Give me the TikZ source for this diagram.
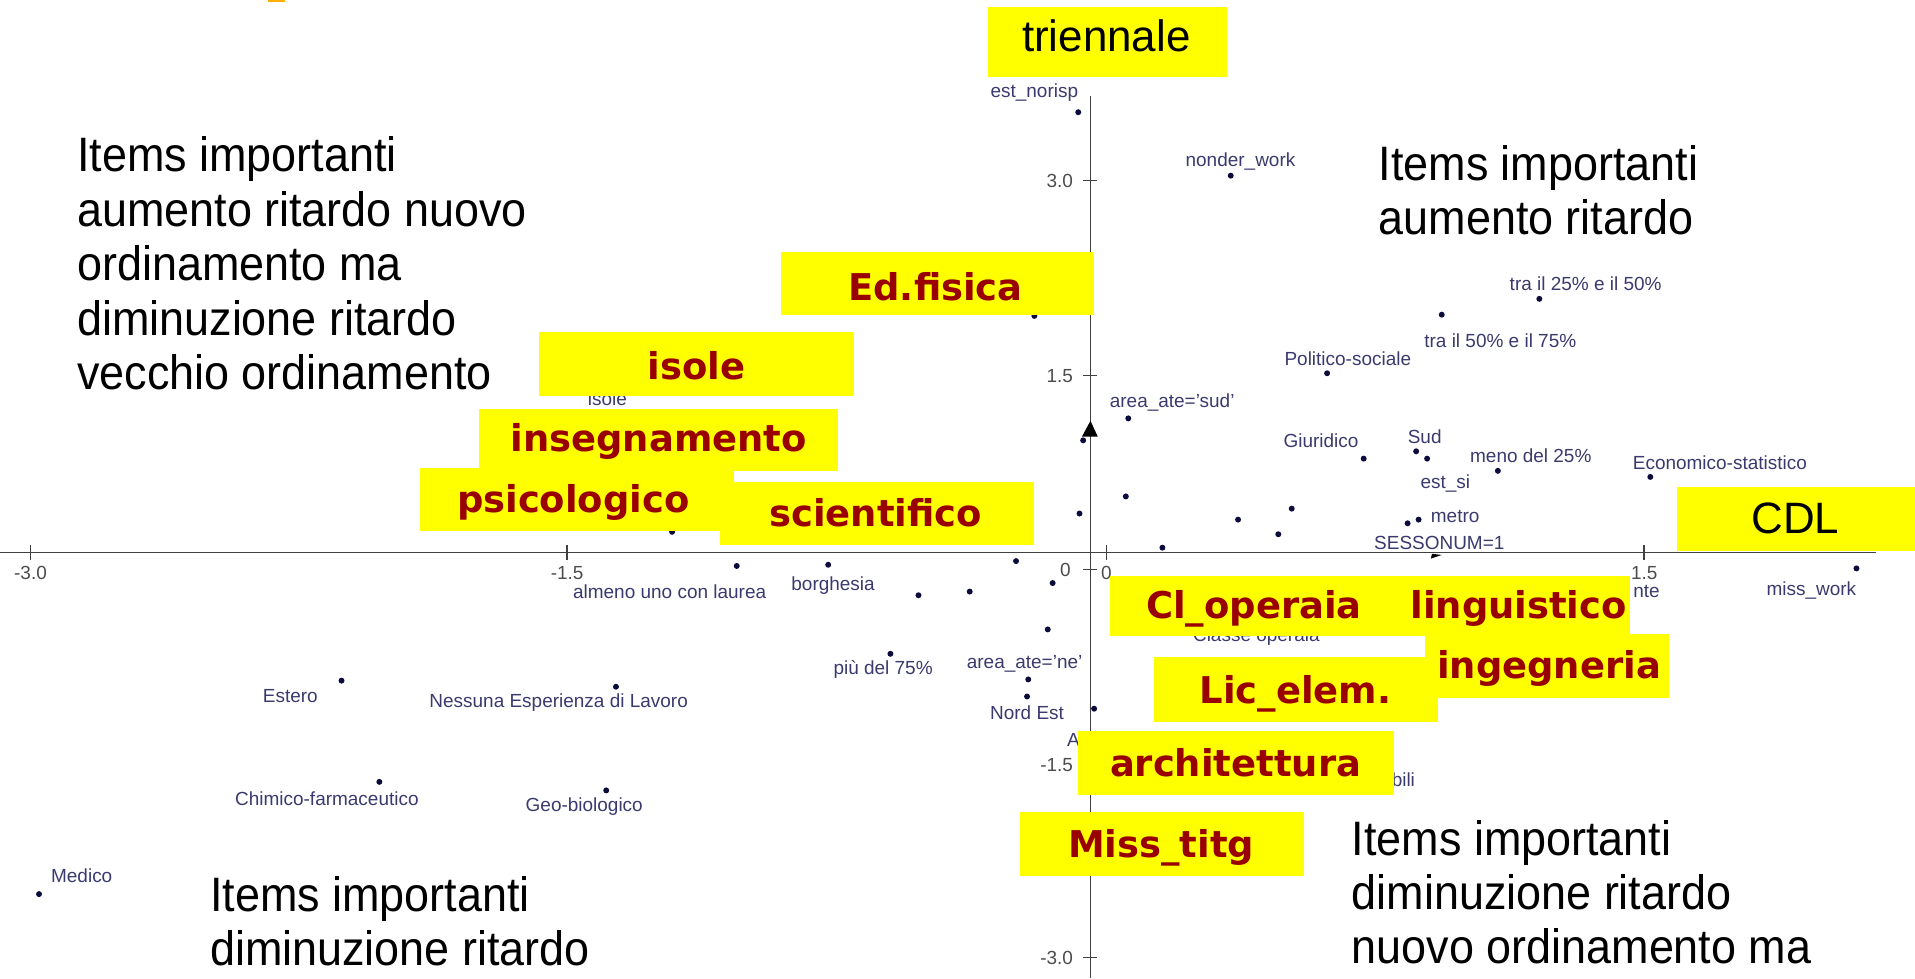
\documentclass[tikz,border=0pt]{standalone}
\usepackage{fontspec}
\setmainfont{Liberation Sans}
\newfontfamily\hlfont{DejaVu Sans}
\newfontfamily\quadfont[FakeStretch=0.93]{Liberation Sans}
\definecolor{hlyellow}{RGB}{255,255,0}
\definecolor{hlred}{RGB}{153,0,0}
\definecolor{labblue}{RGB}{58,58,110}
\definecolor{dotblue}{RGB}{12,12,60}
\definecolor{titorange}{RGB}{255,176,0}
\tikzset{
lab/.style={font=\fontsize{10.8}{12}\selectfont, text=labblue, inner sep=0.5pt},
ticklab/.style={font=\fontsize{10.8}{12}\selectfont, text=black!70, inner sep=0pt},
hl/.style={font=\hlfont\bfseries\fontsize{21}{24}\selectfont, text=hlred, inner sep=0pt, anchor=base},
axname/.style={font=\fontsize{25}{28}\selectfont, inner sep=0pt, anchor=base},
quad/.style={font=\quadfont\fontsize{27.5}{31}\selectfont, align=left, anchor=north west, inner sep=0pt},
datum/.style={fill=dotblue},
ax/.style={draw=black!75, line width=0.9pt}
}

\begin{document}
\begin{tikzpicture}[x=0.0244cm, y=-0.0244cm]
\useasboundingbox (0,0) rectangle (1570,802);
\fill[titorange] (220,0) rectangle (234,2);

% axes
\draw[ax] (0,453) -- (1538,453);
\draw[ax] (894,79) -- (894,802);
\draw[ax] (25,447) -- (25,459);
\draw[ax] (465,447) -- (465,459);
\draw[ax] (907,447) -- (907,459);
\draw[ax] (1348,447) -- (1348,459);
\draw[ax] (888,148) -- (899,148);
\draw[ax] (888,308) -- (899,308);
\draw[ax] (888,467) -- (899,467);
\draw[ax] (888,627) -- (899,627);
\draw[ax] (888,785) -- (899,785);
\node[ticklab] (xm3) at (25,470) {-3.0};
\node[ticklab] (xm15) at (465,470) {-1.5};
\node[ticklab] (x0) at (907,470) {0};
\node[ticklab] (x15) at (1348,470) {1.5};
\node[ticklab, anchor=east] (y3) at (880,148) {3.0};
\node[ticklab, anchor=east] (y15) at (880,308) {1.5};
\node[ticklab, anchor=east] (y0) at (878,467) {0};
\node[ticklab, anchor=east] (ym15) at (880,627) {-1.5};
\node[ticklab, anchor=east] (ym3) at (880,785) {-3.0};
\fill (887,358) -- (900,358) -- (894,345) -- cycle;

% categories
\node[lab] (estnorisp) at (848,76) {est\_norisp};
\fill[datum] (884,92) circle [radius=1.7pt];
\node[lab] (nonder) at (1017,132) {nonder\_work};
\fill[datum] (1009,144) circle [radius=1.7pt];
\node[lab] (tra25) at (1300,233) {tra il 25\% e il 50\%};
\fill[datum] (1262,245) circle [radius=1.7pt];
\node[lab] (tra50) at (1230,279) {tra il 50\% e il 75\%};
\fill[datum] (1182,258) circle [radius=1.7pt];
\node[lab] (polsoc) at (1105,294) {Politico-sociale};
\fill[datum] (1088,306) circle [radius=1.7pt];
\node[lab] (areasud) at (961,330) {area\_ate='sud'};
\fill[datum] (925,343) circle [radius=1.7pt];
\node[lab] (giur) at (1083,361) {Giuridico};
\fill[datum] (1118,376) circle [radius=1.7pt];
\node[lab] (sud) at (1168,358) {Sud};
\fill[datum] (1161,370) circle [radius=1.7pt];
\fill[datum] (1170,376) circle [radius=1.7pt];
\node[lab] (estsi) at (1185,396) {est\_si};
\node[lab] (meno25) at (1255,374) {meno del 25\%};
\fill[datum] (1228,386) circle [radius=1.7pt];
\node[lab] (ecostat) at (1410,379) {Economico-statistico};
\fill[datum] (1353,391) circle [radius=1.7pt];
\node[lab] (metro) at (1193,423) {metro};
\fill[datum] (1154,429) circle [radius=1.7pt];
\fill[datum] (1163,426) circle [radius=1.7pt];
\node[lab, fill=white] (sesso) at (1180,445) {SESSONUM=1};
\fill (1173,458) -- (1182,455) -- (1174,454) -- cycle;
\node[lab] (misswork) at (1485,484) {miss\_work};
\fill[datum] (1522,466) circle [radius=1.7pt];
\node[lab, anchor=west] (nte) at (1338,485) {nte};
\node[lab] (laurea) at (549,485) {almeno uno con laurea};
\fill[datum] (604,464) circle [radius=1.7pt];
\node[lab] (borgh) at (683,480) {borghesia};
\fill[datum] (679,463) circle [radius=1.7pt];
\node[lab] (piu75) at (724,549) {più del 75\%};
\fill[datum] (730,536) circle [radius=1.7pt];
\node[lab] (areane) at (840,544) {area\_ate='ne'};
\fill[datum] (843,557) circle [radius=1.7pt];
\fill[datum] (842,571) circle [radius=1.7pt];
\node[lab] (nordest) at (842,584) {Nord Est};
\node[lab] (estero) at (238,571) {Estero};
\fill[datum] (280,558) circle [radius=1.7pt];
\node[lab] (nessuna) at (458,576) {Nessuna Esperienza di Lavoro};
\fill[datum] (505,563) circle [radius=1.7pt];
\node[lab] (chimico) at (268,655) {Chimico-farmaceutico};
\fill[datum] (311,641) circle [radius=1.7pt];
\node[lab] (geobio) at (479,661) {Geo-biologico};
\fill[datum] (497,648) circle [radius=1.7pt];
\node[lab] (medico) at (67,718) {Medico};
\fill[datum] (32,733) circle [radius=1.7pt];
\node[lab] (isolelab) at (498,327) {isole};
\node[lab] (classe) at (1030,522) {Classe operaia};
\node[lab] (alab) at (880,607) {A};
\node[lab, anchor=west] (bili) at (1140,639) {bili};
\fill[datum] (848,259) circle [radius=1.7pt];
\fill[datum] (888,361) circle [radius=1.7pt];
\fill[datum] (923,407) circle [radius=1.7pt];
\fill[datum] (885,421) circle [radius=1.7pt];
\fill[datum] (953,449) circle [radius=1.7pt];
\fill[datum] (1015,426) circle [radius=1.7pt];
\fill[datum] (1048,438) circle [radius=1.7pt];
\fill[datum] (1059,417) circle [radius=1.7pt];
\fill[datum] (551,436) circle [radius=1.7pt];
\fill[datum] (753,488) circle [radius=1.7pt];
\fill[datum] (795,485) circle [radius=1.7pt];
\fill[datum] (833,460) circle [radius=1.7pt];
\fill[datum] (863,478) circle [radius=1.7pt];
\fill[datum] (859,516) circle [radius=1.7pt];
\fill[datum] (897,581) circle [radius=1.7pt];

% highlighted
\fill[hlyellow] (810,6) rectangle (1006,63);
\node[axname] (trienn) at (907,42) {triennale};
\fill[hlyellow] (1375,399) rectangle (1570,452);
\node[axname] (cdl) at (1472,437) {CDL};
\fill[hlyellow] (640,207) rectangle (897,258);
\node[hl] (edfis) at (767,246) {Ed.fisica};
\fill[hlyellow] (442,272) rectangle (700,325);
\node[hl] (isole) at (571,311) {isole};
\fill[hlyellow] (393,335) rectangle (687,386);
\node[hl] (insegn) at (540,370) {insegnamento};
\fill[hlyellow] (344,384) rectangle (602,435);
\node[hl] (psico) at (470,420) {psicologico};
\fill[hlyellow] (590,395) rectangle (848,447);
\node[hl] (scient) at (718,432) {scientifico};
\fill[hlyellow] (910,472) rectangle (1145,521);
\node[hl] (clop) at (1028,507) {Cl\_operaia};
\fill[hlyellow] (1145,472) rectangle (1336,521);
\node[hl] (lingu) at (1245,507) {linguistico};
\fill[hlyellow] (1168,520) rectangle (1368,572);
\node[hl] (ingegn) at (1270,556) {ingegneria};
\fill[hlyellow] (946,539) rectangle (1179,592);
\node[hl] (licel) at (1062,577) {Lic\_elem.};
\fill[hlyellow] (884,599) rectangle (1143,652);
\node[hl] (archit) at (1013,637) {architettura};
\fill[hlyellow] (836,666) rectangle (1069,718);
\node[hl] (misstitg) at (952,703) {Miss\_titg};

% quadrants
\node[quad] (tlnote) at (63,112) {Items importanti\\aumento ritardo nuovo\\ordinamento ma\\diminuzione ritardo\\vecchio ordinamento};
\node[quad] (trnote) at (1130,119) {Items importanti\\aumento ritardo};
\node[quad] (brnote) at (1108,672) {Items importanti\\diminuzione ritardo\\nuovo ordinamento ma};
\node[quad] (blnote) at (172,718) {Items importanti\\diminuzione ritardo};
\end{tikzpicture}
\end{document}
